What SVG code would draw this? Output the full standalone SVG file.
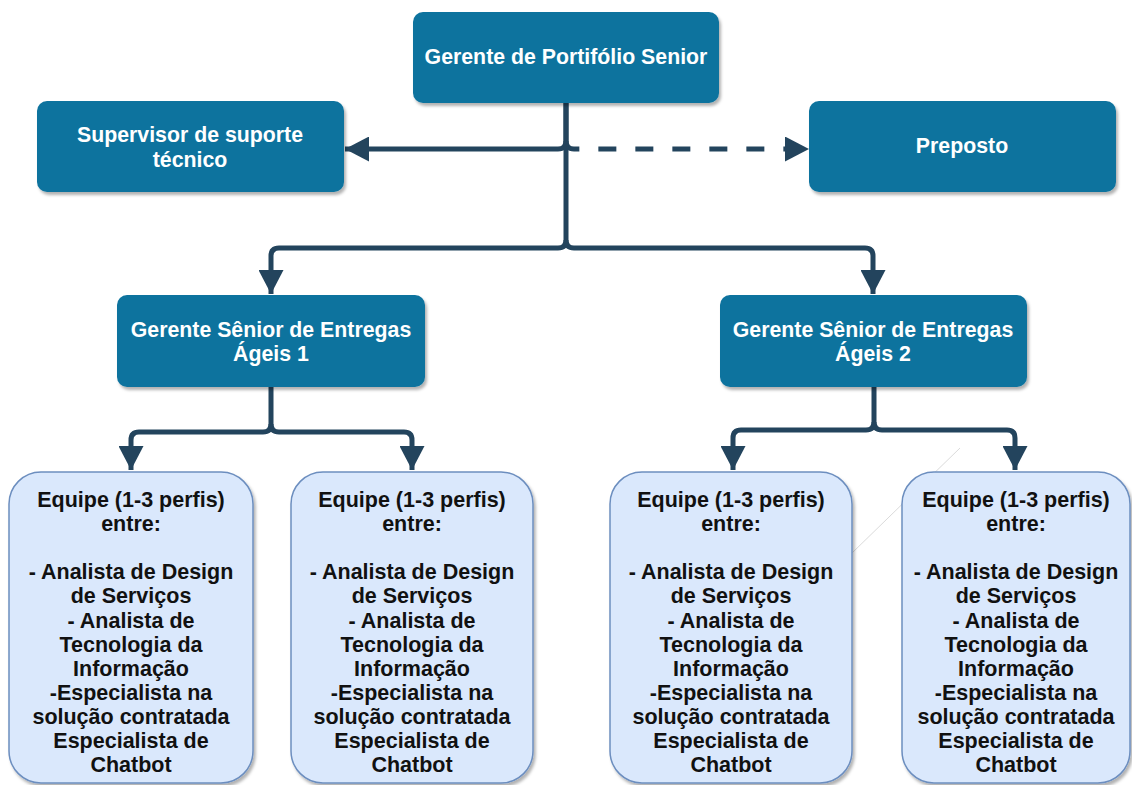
<svg xmlns="http://www.w3.org/2000/svg" width="1132" height="785" viewBox="0 0 1132 785">
<defs>
<filter id="sh" x="-10%" y="-10%" width="120%" height="130%">
<feDropShadow dx="2" dy="3" stdDeviation="1.5" flood-color="#000" flood-opacity="0.3"/>
</filter>
<marker id="ah" viewBox="0 0 24 25" refX="24" refY="12.5" markerWidth="24" markerHeight="25" markerUnits="userSpaceOnUse" orient="auto">
<path d="M0,0 L24,12.5 L0,25 Z" fill="#23445D"/>
</marker>
<style>
.n{fill:#10739E;filter:url(#sh)}
.t{fill:#dae8fc;stroke:#6c8ebf;stroke-width:1.5;filter:url(#sh)}
.nt{font-family:"Liberation Sans",Arial,sans-serif;font-weight:bold;font-size:21.3px;fill:#fff;text-anchor:middle}
.tt{font-family:"Liberation Sans",Arial,sans-serif;font-weight:bold;font-size:21.5px;fill:#111;text-anchor:middle}
.c{fill:none;stroke:#23445D;stroke-width:5}
</style>
</defs>
<line x1="960" y1="448" x2="852" y2="553" stroke="#d0d0d0" stroke-width="0.8"/>
<g id="connectors">
<path class="c" d="M566,103 V141 Q566,149 558,149 H345" marker-end="url(#ah)"/>
<path class="c" d="M566,141 Q566,149 574,149 H809" stroke-dasharray="18 19" marker-end="url(#ah)"/>
<path class="c" d="M566,103 V240 Q566,248 558,248 H279 Q271,248 271,256 V294" marker-end="url(#ah)"/>
<path class="c" d="M566,240 Q566,248 574,248 H865 Q873,248 873,256 V294" marker-end="url(#ah)"/>
<path class="c" d="M271,387 V424 Q271,432 263,432 H139 Q131,432 131,440 V470" marker-end="url(#ah)"/>
<path class="c" d="M271,424 Q271,432 279,432 H404 Q412,432 412,440 V470" marker-end="url(#ah)"/>
<path class="c" d="M874,387 V422 Q874,430 866,430 H741 Q733,430 733,438 V470" marker-end="url(#ah)"/>
<path class="c" d="M874,422 Q874,430 882,430 H1007 Q1015,430 1015,438 V470" marker-end="url(#ah)"/>
</g>
<g id="gerente-portifolio">
<rect class="n" x="413" y="12" width="306" height="91" rx="10"/>
<text class="nt" x="566" y="64">Gerente de Portifólio Senior</text>
</g>
<g id="supervisor">
<rect class="n" x="37" y="101" width="307" height="91" rx="10"/>
<text class="nt" x="190" y="142">Supervisor de suporte</text>
<text class="nt" x="190" y="167">técnico</text>
</g>
<g id="preposto">
<rect class="n" x="809" y="101" width="307" height="91" rx="10"/>
<text class="nt" x="962" y="153">Preposto</text>
</g>
<g id="gerente-ageis-1">
<rect class="n" x="117" y="295" width="308" height="92" rx="10"/>
<text class="nt" x="271" y="337">Gerente Sênior de Entregas</text>
<text class="nt" x="271" y="361">Ágeis 1</text>
</g>
<g id="gerente-ageis-2">
<rect class="n" x="720" y="295" width="307" height="92" rx="10"/>
<text class="nt" x="873" y="337">Gerente Sênior de Entregas</text>
<text class="nt" x="873" y="361">Ágeis 2</text>
</g>
<g id="equipe-1">
<rect class="t" x="9" y="472" width="244" height="311" rx="32"/>
<text class="tt" x="131" y="507">Equipe (1-3 perfis)</text>
<text class="tt" x="131" y="531">entre:</text>
<text class="tt" x="131" y="579">- Analista de Design</text>
<text class="tt" x="131" y="603">de Serviços</text>
<text class="tt" x="131" y="628">- Analista de</text>
<text class="tt" x="131" y="652">Tecnologia da</text>
<text class="tt" x="131" y="676">Informação</text>
<text class="tt" x="131" y="700">-Especialista na</text>
<text class="tt" x="131" y="724">solução contratada</text>
<text class="tt" x="131" y="748">Especialista de</text>
<text class="tt" x="131" y="772">Chatbot</text>
</g>
<g id="equipe-2">
<rect class="t" x="291" y="472" width="242" height="311" rx="32"/>
<text class="tt" x="412" y="507">Equipe (1-3 perfis)</text>
<text class="tt" x="412" y="531">entre:</text>
<text class="tt" x="412" y="579">- Analista de Design</text>
<text class="tt" x="412" y="603">de Serviços</text>
<text class="tt" x="412" y="628">- Analista de</text>
<text class="tt" x="412" y="652">Tecnologia da</text>
<text class="tt" x="412" y="676">Informação</text>
<text class="tt" x="412" y="700">-Especialista na</text>
<text class="tt" x="412" y="724">solução contratada</text>
<text class="tt" x="412" y="748">Especialista de</text>
<text class="tt" x="412" y="772">Chatbot</text>
</g>
<g id="equipe-3">
<rect class="t" x="610" y="472" width="242" height="311" rx="32"/>
<text class="tt" x="731" y="507">Equipe (1-3 perfis)</text>
<text class="tt" x="731" y="531">entre:</text>
<text class="tt" x="731" y="579">- Analista de Design</text>
<text class="tt" x="731" y="603">de Serviços</text>
<text class="tt" x="731" y="628">- Analista de</text>
<text class="tt" x="731" y="652">Tecnologia da</text>
<text class="tt" x="731" y="676">Informação</text>
<text class="tt" x="731" y="700">-Especialista na</text>
<text class="tt" x="731" y="724">solução contratada</text>
<text class="tt" x="731" y="748">Especialista de</text>
<text class="tt" x="731" y="772">Chatbot</text>
</g>
<g id="equipe-4">
<rect class="t" x="902" y="472" width="228" height="311" rx="32"/>
<text class="tt" x="1016" y="507">Equipe (1-3 perfis)</text>
<text class="tt" x="1016" y="531">entre:</text>
<text class="tt" x="1016" y="579">- Analista de Design</text>
<text class="tt" x="1016" y="603">de Serviços</text>
<text class="tt" x="1016" y="628">- Analista de</text>
<text class="tt" x="1016" y="652">Tecnologia da</text>
<text class="tt" x="1016" y="676">Informação</text>
<text class="tt" x="1016" y="700">-Especialista na</text>
<text class="tt" x="1016" y="724">solução contratada</text>
<text class="tt" x="1016" y="748">Especialista de</text>
<text class="tt" x="1016" y="772">Chatbot</text>
</g>
</svg>
